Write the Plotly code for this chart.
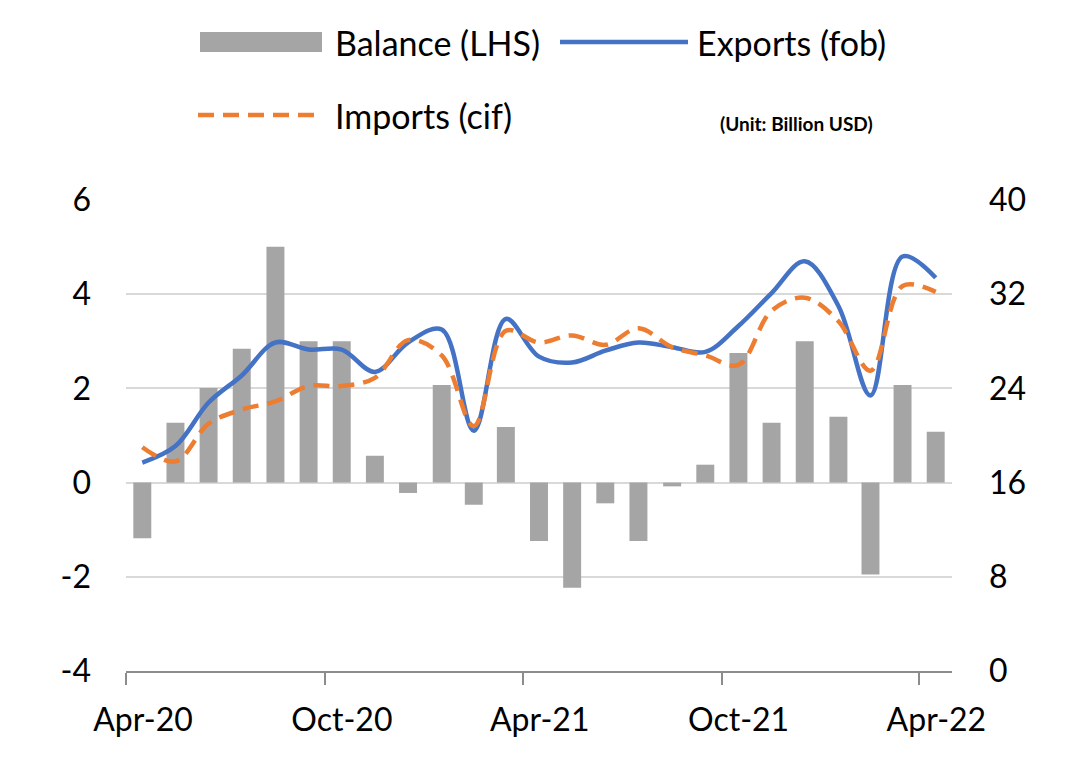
import plotly.graph_objects as go


MONTHS = [
    "2020-04-01", "2020-05-01", "2020-06-01", "2020-07-01", "2020-08-01",
    "2020-09-01", "2020-10-01", "2020-11-01", "2020-12-01", "2021-01-01",
    "2021-02-01", "2021-03-01", "2021-04-01", "2021-05-01", "2021-06-01",
    "2021-07-01", "2021-08-01", "2021-09-01", "2021-10-01", "2021-11-01",
    "2021-12-01", "2022-01-01", "2022-02-01", "2022-03-01", "2022-04-01",
]

BALANCE = [
    -1.18, 1.27, 2.01, 2.84, 5.01, 3.0, 3.0, 0.57, -0.22, 2.07, -0.47, 1.18,
    -1.24, -2.23, -0.44, -1.24, -0.08, 0.38, 2.75, 1.27, 3.0, 1.40, -1.95,
    2.07, 1.08,
]

EXPORTS = [
    17.7, 19.1, 22.8, 25.1, 27.9, 27.3, 27.3, 25.4, 27.9, 29.0, 20.4, 29.9,
    26.7, 26.2, 27.2, 27.9, 27.5, 27.1, 29.3, 32.1, 34.8, 31.0, 23.4, 35.2,
    33.4,
]

IMPORTS = [
    19.0, 17.8, 21.0, 22.2, 22.9, 24.2, 24.2, 24.9, 28.1, 26.8, 20.8, 28.9,
    27.9, 28.5, 27.7, 29.1, 27.5, 26.8, 26.0, 30.6, 31.7, 29.7, 25.5, 32.7,
    32.2,
]

LEFT_TICKS = [-4, -2, 0, 2, 4, 6]
RIGHT_TICKS = [0, 8, 16, 24, 32, 40]

FONT = "Lato"
GREY = "#a5a5a5"
BLUE = "#4472c4"
ORANGE = "#ed7d31"
DASH = "16px,9px"

# the page body has an 8px margin, so the figure sits at (8, 8) in the window
OFFSET = 8
WIDTH, HEIGHT = 1091 - OFFSET, 765 - OFFSET
PLOT_L, PLOT_R, PLOT_T, PLOT_B = 126, 952, 200, 671  # window pixels


def px_to_paper(x, y):
    """Convert window pixels to paper coordinates (for the hand-made legend)."""
    return (
        (x - PLOT_L) / (PLOT_R - PLOT_L),
        (PLOT_B - y) / (PLOT_B - PLOT_T),
    )


figure = go.Figure()

figure.add_trace(
    go.Bar(
        x=MONTHS,
        y=BALANCE,
        name="Balance (LHS)",
        marker={"color": GREY, "line": {"width": 0}},
        xperiod="M1",
        xperiodalignment="middle",
        yaxis="y",
    )
)

figure.add_trace(
    go.Scatter(
        x=MONTHS,
        y=EXPORTS,
        name="Exports (fob)",
        mode="lines",
        line={"color": BLUE, "width": 4.5, "shape": "spline", "smoothing": 1.0},
        xperiod="M1",
        xperiodalignment="middle",
        yaxis="y2",
    )
)

figure.add_trace(
    go.Scatter(
        x=MONTHS,
        y=IMPORTS,
        name="Imports (cif)",
        mode="lines",
        line={
            "color": ORANGE,
            "width": 4.5,
            "dash": DASH,
            "shape": "spline",
            "smoothing": 1.0,
        },
        xperiod="M1",
        xperiodalignment="middle",
        yaxis="y2",
    )
)

# legend drawn by hand so the swatches are as long as in the original
shapes = []
annotations = []

x0, y0 = px_to_paper(200, 52)
x1, y1 = px_to_paper(322, 32)
shapes.append(
    {
        "type": "rect", "xref": "paper", "yref": "paper",
        "x0": x0, "x1": x1, "y0": y0, "y1": y1,
        "fillcolor": GREY, "line": {"width": 0},
    }
)

x0, ly = px_to_paper(560, 42)
x1, _ = px_to_paper(688, 42)
shapes.append(
    {
        "type": "line", "xref": "paper", "yref": "paper",
        "x0": x0, "x1": x1, "y0": ly, "y1": ly,
        "line": {"color": BLUE, "width": 4.5},
    }
)

x0, ly = px_to_paper(198, 115)
x1, _ = px_to_paper(322, 115)
shapes.append(
    {
        "type": "line", "xref": "paper", "yref": "paper",
        "x0": x0, "x1": x1, "y0": ly, "y1": ly,
        "line": {"color": ORANGE, "width": 4.5, "dash": DASH},
    }
)

for label, px, py in [
    ("Balance (LHS)", 333, 42),
    ("Exports (fob)", 695, 42),
    ("Imports (cif)", 333, 115),
]:
    ax, ay = px_to_paper(px, py)
    annotations.append(
        {
            "text": label, "xref": "paper", "yref": "paper",
            "x": ax, "y": ay, "xanchor": "left", "yanchor": "middle",
            "showarrow": False,
            "font": {"family": FONT, "size": 34, "color": "#000000"},
        }
    )

ux, uy = px_to_paper(796, 123)
annotations.append(
    {
        "text": "<b>(Unit: Billion USD)</b>", "xref": "paper", "yref": "paper",
        "x": ux, "y": uy, "xanchor": "center", "yanchor": "middle",
        "showarrow": False,
        "font": {"family": FONT, "size": 19, "color": "#000000"},
    }
)

figure.update_layout(
    width=WIDTH,
    height=HEIGHT,
    margin={
        "l": PLOT_L - OFFSET,
        "r": 1091 - PLOT_R,
        "t": PLOT_T - OFFSET,
        "b": 765 - PLOT_B,
        "pad": 0,
    },
    paper_bgcolor="#ffffff",
    plot_bgcolor="#ffffff",
    showlegend=False,
    bargap=0.44,
    font={"family": FONT, "size": 32, "color": "#000000"},
    shapes=shapes,
    annotations=annotations,
    xaxis={
        "type": "date",
        "range": ["2020-04-01", "2022-05-01"],
        "tick0": "2020-04-01",
        "dtick": "M6",
        "tickformat": "%b-%y",
        "ticks": "outside",
        "ticklen": 12,
        "tickwidth": 2,
        "tickcolor": "#8c8c8c",
        "showline": True,
        "linecolor": "#8c8c8c",
        "linewidth": 2,
        "showgrid": False,
        "zeroline": False,
        "ticklabelstandoff": 8,
        "ticklabelshift": 17,
    },
    yaxis={
        "range": [-4, 6],
        "tickvals": LEFT_TICKS,
        "ticktext": [str(v) for v in LEFT_TICKS],
        "showgrid": True,
        "gridcolor": "#d9d9d9",
        "gridwidth": 2,
        "zeroline": False,
        "showline": False,
        "ticklabelstandoff": 34,
    },
    yaxis2={
        "range": [0, 40],
        "tickvals": RIGHT_TICKS,
        "ticktext": [str(v) for v in RIGHT_TICKS],
        "overlaying": "y",
        "side": "right",
        "showgrid": False,
        "zeroline": False,
        "showline": False,
        "ticklabelstandoff": 36,
    },
)

figure.write_html("out.html")
